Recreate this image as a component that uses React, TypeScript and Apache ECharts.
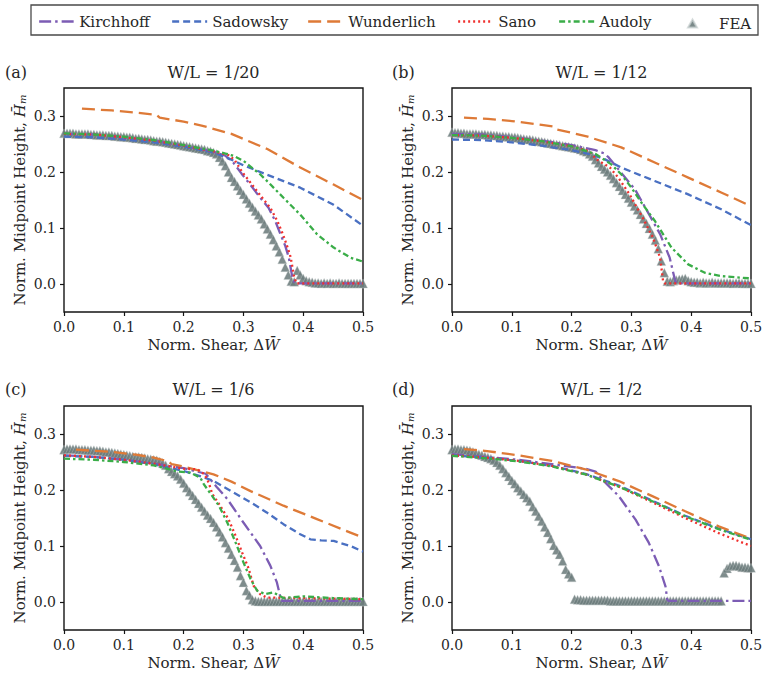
import React, { useEffect, useRef } from "react";
import * as echarts from "echarts";

// ---------- DATA ----------
const FEA_X = [
  0, 0.005, 0.01, 0.015, 0.02, 0.025, 0.03, 0.035, 0.04, 0.045, 0.05,
  0.055, 0.06, 0.065, 0.07, 0.075, 0.08, 0.085, 0.09, 0.095, 0.1,
  0.105, 0.11, 0.115, 0.12, 0.125, 0.13, 0.135, 0.14, 0.145, 0.15,
  0.155, 0.16, 0.165, 0.17, 0.175, 0.18, 0.185, 0.19, 0.195, 0.2,
  0.205, 0.21, 0.215, 0.22, 0.225, 0.23, 0.235, 0.24, 0.245, 0.25,
  0.255, 0.26, 0.265, 0.27, 0.275, 0.28, 0.285, 0.29, 0.295, 0.3,
  0.305, 0.31, 0.315, 0.32, 0.325, 0.33, 0.335, 0.34, 0.345, 0.35,
  0.355, 0.36, 0.365, 0.37, 0.375, 0.38, 0.385, 0.39, 0.395, 0.4,
  0.405, 0.41, 0.415, 0.42, 0.425, 0.43, 0.435, 0.44, 0.445, 0.45,
  0.455, 0.46, 0.465, 0.47, 0.475, 0.48, 0.485, 0.49, 0.495, 0.5,
];

// Panel (a) W/L = 1/20
const FEA_A = [
  0.269, 0.269, 0.269, 0.269, 0.268, 0.268, 0.268, 0.268, 0.268, 0.267, 0.267,
  0.266, 0.266, 0.266, 0.265, 0.265, 0.265, 0.264, 0.264, 0.263, 0.263,
  0.262, 0.262, 0.261, 0.26, 0.26, 0.259, 0.258, 0.258, 0.257, 0.256,
  0.255, 0.255, 0.254, 0.253, 0.252, 0.251, 0.25, 0.249, 0.248, 0.247,
  0.246, 0.245, 0.244, 0.243, 0.242, 0.241, 0.24, 0.238, 0.237, 0.235,
  0.232, 0.226, 0.219, 0.211, 0.2, 0.19, 0.183, 0.175, 0.167, 0.16,
  0.152, 0.144, 0.137, 0.13, 0.123, 0.116, 0.107, 0.098, 0.089, 0.079,
  0.068, 0.057, 0.044, 0.03, 0.016, 0.005, 0.004, 0.024, 0.016, 0.01,
  0.006, 0.004, 0.003, 0.002, 0.002, 0.001, 0.002, 0.001, 0.002, 0.001,
  0.001, 0.002, 0.001, 0.001, 0.001, 0.001, 0.001, 0.001, 0.001, 0.001,
];
const KIRCHHOFF_A = [
  [0, 0.268], [0.05, 0.267], [0.1, 0.262], [0.15, 0.256], [0.2, 0.247], [0.25, 0.236],
  [0.27, 0.229], [0.283, 0.217], [0.297, 0.197], [0.311, 0.178], [0.326, 0.157],
  [0.342, 0.136], [0.353, 0.113], [0.362, 0.089], [0.37, 0.068], [0.376, 0.047],
  [0.382, 0.011], [0.386, 0.001], [0.5, 0.001],
];
const SADOWSKY_A = [
  [0, 0.263], [0.05, 0.262], [0.1, 0.258], [0.15, 0.253], [0.2, 0.245], [0.25, 0.235],
  [0.28, 0.222], [0.3, 0.212], [0.34, 0.195], [0.395, 0.172], [0.45, 0.142], [0.5, 0.104],
];
const WUNDERLICH_A = [
  [0.03, 0.313], [0.08, 0.31], [0.12, 0.306], [0.155, 0.302], [0.16, 0.297], [0.2, 0.29],
  [0.23, 0.283], [0.28, 0.268], [0.34, 0.241], [0.395, 0.208], [0.45, 0.178], [0.5, 0.15],
];
const SANO_A = [
  [0, 0.268], [0.05, 0.267], [0.1, 0.262], [0.15, 0.256], [0.2, 0.247], [0.25, 0.237],
  [0.275, 0.23], [0.285, 0.222], [0.298, 0.2], [0.314, 0.178], [0.33, 0.156],
  [0.345, 0.136], [0.357, 0.112], [0.366, 0.089], [0.373, 0.068], [0.379, 0.048],
  [0.385, 0.012], [0.389, 0.001], [0.5, 0.001],
];
const AUDOLY_A = [
  [0, 0.269], [0.05, 0.267], [0.1, 0.263], [0.15, 0.257], [0.2, 0.248], [0.25, 0.238],
  [0.27, 0.233], [0.283, 0.229], [0.3, 0.22], [0.315, 0.207], [0.328, 0.196],
  [0.345, 0.178], [0.367, 0.154], [0.395, 0.124], [0.423, 0.089], [0.451, 0.065],
  [0.479, 0.047], [0.5, 0.04],
];

// Panel (b) W/L = 1/12
const FEA_B = [
  0.271, 0.27, 0.27, 0.269, 0.269, 0.268, 0.268, 0.268, 0.268, 0.267, 0.267,
  0.267, 0.266, 0.266, 0.265, 0.265, 0.264, 0.264, 0.263, 0.263, 0.262,
  0.262, 0.261, 0.26, 0.259, 0.258, 0.258, 0.257, 0.256, 0.255, 0.254,
  0.253, 0.252, 0.251, 0.25, 0.249, 0.248, 0.247, 0.246, 0.245, 0.244,
  0.243, 0.242, 0.24, 0.238, 0.236, 0.232, 0.228, 0.222, 0.216, 0.21,
  0.205, 0.2, 0.194, 0.188, 0.181, 0.174, 0.167, 0.16, 0.153, 0.146,
  0.139, 0.132, 0.124, 0.116, 0.108, 0.099, 0.089, 0.078, 0.063, 0.041,
  0.02, 0.005, 0.004, 0.006, 0.007, 0.008, 0.009, 0.01, 0.006, 0.004,
  0.003, 0.003, 0.002, 0.003, 0.002, 0.002, 0.003, 0.002, 0.002, 0.002,
  0.002, 0.002, 0.002, 0.001, 0.002, 0.002, 0.001, 0.001, 0.001, 0.001,
];
const KIRCHHOFF_B = [
  [0, 0.268], [0.05, 0.267], [0.1, 0.262], [0.15, 0.256], [0.2, 0.248], [0.24, 0.239],
  [0.255, 0.233], [0.262, 0.226], [0.285, 0.196], [0.306, 0.169], [0.325, 0.133],
  [0.348, 0.089], [0.364, 0.047], [0.372, 0.011], [0.375, 0.001], [0.5, 0.001],
];
const SADOWSKY_B = [
  [0, 0.258], [0.05, 0.257], [0.1, 0.253], [0.15, 0.247], [0.2, 0.239], [0.23, 0.232],
  [0.255, 0.223], [0.283, 0.208], [0.339, 0.184], [0.395, 0.16], [0.451, 0.133], [0.5, 0.105],
];
const WUNDERLICH_B = [
  [0.02, 0.297], [0.06, 0.295], [0.1, 0.291], [0.15, 0.284], [0.17, 0.281], [0.175, 0.276],
  [0.2, 0.27], [0.227, 0.263], [0.283, 0.244], [0.339, 0.217], [0.395, 0.19],
  [0.451, 0.163], [0.5, 0.139],
];
const SANO_B = [
  [0, 0.266], [0.05, 0.265], [0.1, 0.261], [0.15, 0.255], [0.2, 0.246], [0.23, 0.237],
  [0.241, 0.223], [0.264, 0.208], [0.278, 0.19], [0.297, 0.16], [0.317, 0.122],
  [0.336, 0.083], [0.348, 0.047], [0.353, 0.005], [0.356, 0.001], [0.5, 0.001],
];
const AUDOLY_B = [
  [0, 0.266], [0.05, 0.265], [0.1, 0.261], [0.15, 0.255], [0.2, 0.246], [0.24, 0.232],
  [0.266, 0.214], [0.283, 0.196], [0.3, 0.172], [0.317, 0.145], [0.339, 0.113],
  [0.367, 0.065], [0.395, 0.035], [0.423, 0.02], [0.451, 0.014], [0.5, 0.01],
];

// Panel (c) W/L = 1/6
const FEA_C = [
  0.272, 0.273, 0.273, 0.273, 0.273, 0.272, 0.272, 0.272, 0.271, 0.271, 0.271,
  0.27, 0.27, 0.269, 0.268, 0.268, 0.267, 0.266, 0.265, 0.264, 0.263,
  0.262, 0.261, 0.26, 0.259, 0.259, 0.258, 0.257, 0.256, 0.255, 0.254,
  0.253, 0.251, 0.248, 0.244, 0.238, 0.233, 0.229, 0.225, 0.219, 0.212,
  0.204, 0.197, 0.19, 0.183, 0.176, 0.169, 0.162, 0.155, 0.149, 0.142,
  0.134, 0.125, 0.116, 0.106, 0.096, 0.085, 0.074, 0.062, 0.047, 0.035,
  0.02, 0.012, 0.004, 0.002, 0.001, 0.001, 0.001, 0.001, 0.001, 0.001,
  0.001, 0.001, 0.001, 0.001, 0.001, 0.001, 0.001, 0.001, 0.001, 0.001,
  0.001, 0.001, 0.001, 0.001, 0.001, 0.001, 0.001, 0.001, 0.001, 0.001,
  0.001, 0.001, 0.001, 0.001, 0.001, 0.001, 0.001, 0.001, 0.001, 0.001,
];
const KIRCHHOFF_C = [
  [0, 0.262], [0.05, 0.259], [0.1, 0.254], [0.15, 0.247], [0.2, 0.239], [0.237, 0.229],
  [0.255, 0.206], [0.273, 0.184], [0.3, 0.142], [0.328, 0.1], [0.345, 0.065],
  [0.356, 0.035], [0.362, 0.008], [0.364, 0.002], [0.5, 0.002],
];
const SADOWSKY_C = [
  [0, 0.261], [0.05, 0.259], [0.1, 0.254], [0.15, 0.246], [0.2, 0.234], [0.23, 0.224],
  [0.25, 0.216], [0.284, 0.195], [0.312, 0.178], [0.339, 0.16], [0.367, 0.139],
  [0.395, 0.121], [0.412, 0.112], [0.43, 0.11], [0.451, 0.109], [0.479, 0.1], [0.5, 0.09],
];
const WUNDERLICH_C = [
  [0.02, 0.272], [0.08, 0.268], [0.12, 0.263], [0.15, 0.258], [0.175, 0.251], [0.18, 0.246],
  [0.2, 0.242], [0.25, 0.228], [0.28, 0.215], [0.312, 0.198], [0.367, 0.172],
  [0.423, 0.148], [0.479, 0.124], [0.5, 0.115],
];
const SANO_C = [
  [0, 0.262], [0.05, 0.259], [0.1, 0.254], [0.15, 0.247], [0.2, 0.238], [0.223, 0.237],
  [0.235, 0.228], [0.242, 0.213], [0.248, 0.193], [0.261, 0.172], [0.275, 0.148],
  [0.287, 0.118], [0.298, 0.088], [0.309, 0.059], [0.317, 0.029], [0.328, 0.014],
  [0.339, 0.008], [0.4, 0.007], [0.5, 0.005],
];
const AUDOLY_C = [
  [0, 0.256], [0.05, 0.254], [0.1, 0.25], [0.15, 0.244], [0.19, 0.233], [0.211, 0.231],
  [0.228, 0.222], [0.234, 0.21], [0.248, 0.189], [0.259, 0.172], [0.273, 0.142],
  [0.287, 0.106], [0.3, 0.071], [0.312, 0.041], [0.323, 0.02], [0.337, 0.014],
  [0.35, 0.017], [0.367, 0.007], [0.4, 0.01], [0.45, 0.007], [0.5, 0.005],
];

// Panel (d) W/L = 1/2
const FEA_D = [
  0.272, 0.273, 0.273, 0.272, 0.272, 0.271, 0.27, 0.268, 0.266, 0.264, 0.262,
  0.26, 0.258, 0.256, 0.253, 0.249, 0.244, 0.238, 0.231, 0.224, 0.217,
  0.211, 0.204, 0.198, 0.192, 0.186, 0.18, 0.17, 0.162, 0.153, 0.144,
  0.134, 0.124, 0.113, 0.101, 0.093, 0.085, 0.073, 0.058, 0.05, 0.044,
  0.005, 0.004, 0.004, 0.003, 0.003, 0.003, 0.003, 0.003, 0.003, 0.003,
  0.003, 0.003, 0.002, 0.002, 0.002, 0.002, 0.002, 0.002, 0.002, 0.002,
  0.002, 0.002, 0.002, 0.002, 0.002, 0.002, 0.002, 0.002, 0.002, 0.002,
  0.002, 0.002, 0.002, 0.002, 0.002, 0.002, 0.002, 0.002, 0.002, 0.002,
  0.002, 0.002, 0.002, 0.002, 0.002, 0.002, 0.002, 0.002, 0.002, 0.002,
  0.052, 0.06, 0.064, 0.065, 0.065, 0.064, 0.062, 0.062, 0.061, 0.061,
];
const KIRCHHOFF_D = [
  [0, 0.264], [0.055, 0.259], [0.111, 0.254], [0.167, 0.246], [0.223, 0.238], [0.24, 0.233],
  [0.251, 0.219], [0.279, 0.189], [0.307, 0.147], [0.329, 0.106], [0.346, 0.064],
  [0.357, 0.028], [0.36, 0.004], [0.362, 0.002], [0.5, 0.002],
];
const SADOWSKY_D = [
  [0, 0.262], [0.055, 0.258], [0.111, 0.252], [0.167, 0.243], [0.223, 0.229],
  [0.279, 0.208], [0.335, 0.181], [0.39, 0.154], [0.446, 0.131], [0.5, 0.112],
];
const WUNDERLICH_D = [
  [0.02, 0.273], [0.055, 0.27], [0.111, 0.262], [0.167, 0.252], [0.223, 0.237],
  [0.279, 0.216], [0.335, 0.189], [0.39, 0.162], [0.446, 0.135], [0.5, 0.113],
];
const SANO_D = [
  [0, 0.262], [0.055, 0.258], [0.111, 0.252], [0.167, 0.243], [0.223, 0.228],
  [0.279, 0.206], [0.335, 0.178], [0.39, 0.15], [0.446, 0.123], [0.5, 0.1],
];
const AUDOLY_D = [
  [0, 0.261], [0.055, 0.257], [0.111, 0.251], [0.167, 0.242], [0.223, 0.228],
  [0.279, 0.206], [0.335, 0.18], [0.39, 0.153], [0.446, 0.13], [0.5, 0.111],
];

const PANEL_TITLES = ["W/L = 1/20", "W/L = 1/12", "W/L = 1/6", "W/L = 1/2"];
const PANEL_LABELS = ["(a)", "(b)", "(c)", "(d)"];
const Y_TICKS = [0, 0.1, 0.2, 0.3];
const SERIES_NAMES = ["Kirchhoff", "Sadowsky", "Wunderlich", "Sano", "Audoly", "FEA"];

const PANEL_DATA = [
  { fea: FEA_A, lines: [KIRCHHOFF_A, SADOWSKY_A, WUNDERLICH_A, SANO_A, AUDOLY_A] },
  { fea: FEA_B, lines: [KIRCHHOFF_B, SADOWSKY_B, WUNDERLICH_B, SANO_B, AUDOLY_B] },
  { fea: FEA_C, lines: [KIRCHHOFF_C, SADOWSKY_C, WUNDERLICH_C, SANO_C, AUDOLY_C] },
  { fea: FEA_D, lines: [KIRCHHOFF_D, SADOWSKY_D, WUNDERLICH_D, SANO_D, AUDOLY_D] },
];

// ---------- STYLE ----------
const FONT = "DejaVu Serif";
const TXT = "#262626";
const COLORS = ["#7c5cb4", "#4a70c2", "#de7a37", "#f0302e", "#3aad48", "#6c7c7c"];
const DASHES: number[][] = [
  [12, 4, 2.5, 4],
  [7, 4],
  [13, 6],
  [2, 3],
  [6, 3, 2.5, 3],
];
const GRID_POS = [
  { left: 64, top: 88 },
  { left: 452, top: 88 },
  { left: 64, top: 406 },
  { left: 452, top: 406 },
];
const GW = 299;
const GH = 224;
const LEGEND_POS = [38, 171, 307, 457, 558, 687];

export default function App() {
  const ref = useRef<HTMLDivElement>(null);

  useEffect(() => {
    if (!ref.current) return;
    const chart = echarts.init(ref.current, null, { renderer: "svg" });

    const grids = GRID_POS.map((g) => ({
      left: g.left,
      top: g.top,
      width: GW,
      height: GH,
      show: true,
      borderColor: "#141414",
      borderWidth: 1.4,
      backgroundColor: "transparent",
    }));

    const xAxes = GRID_POS.map((_, i) => ({
      type: "value",
      gridIndex: i,
      min: 0,
      max: 0.5,
      interval: 0.1,
      name: "Norm. Shear, Δ{it|W\u0304}",
      nameLocation: "middle",
      nameGap: 25,
      nameTextStyle: {
        fontFamily: FONT,
        fontSize: 15,
        color: TXT,
        rich: { it: { fontFamily: FONT, fontSize: 15, fontStyle: "italic", color: TXT } },
      },
      axisLine: { show: false, onZero: false },
      axisTick: { show: true, length: 4, lineStyle: { color: "#141414", width: 1.2 } },
      axisLabel: {
        margin: 8,
        fontFamily: FONT,
        fontSize: 14,
        color: TXT,
        formatter: (v: number) => v.toFixed(1),
      },
      splitLine: { show: false },
    }));

    const yAxes = GRID_POS.map((_, i) => ({
      type: "value",
      gridIndex: i,
      min: -0.05,
      max: 0.35,
      name: "Norm. Midpoint Height, {it|H\u0304}{sub|m}",
      nameLocation: "middle",
      nameGap: 37,
      nameTextStyle: {
        fontFamily: FONT,
        fontSize: 15,
        color: TXT,
        rich: {
          it: { fontFamily: FONT, fontSize: 15, fontStyle: "italic", color: TXT },
          sub: { fontFamily: FONT, fontSize: 10, fontStyle: "italic", color: TXT, verticalAlign: "bottom" },
        },
      },
      axisLine: { show: false, onZero: false },
      axisTick: {
        show: true,
        length: 4,
        customValues: Y_TICKS,
        lineStyle: { color: "#141414", width: 1.2 },
      },
      axisLabel: {
        margin: 8,
        fontFamily: FONT,
        fontSize: 14,
        color: TXT,
        customValues: Y_TICKS,
        formatter: (v: number) => v.toFixed(1),
      },
      splitLine: { show: false },
    }));

    const series: any[] = [];
    PANEL_DATA.forEach((p, i) => {
      series.push({
        type: "scatter",
        name: "FEA",
        xAxisIndex: i,
        yAxisIndex: i,
        symbol: "triangle",
        symbolSize: 9,
        data: FEA_X.map((x, k) => [x, p.fea[k]]),
        itemStyle: {
          color: COLORS[5],
          opacity: 0.88,
          borderColor: "rgba(200,208,208,0.8)",
          borderWidth: 0.5,
        },
        silent: true,
        z: 2,
      });
      p.lines.forEach((d, j) => {
        series.push({
          type: "line",
          name: SERIES_NAMES[j],
          xAxisIndex: i,
          yAxisIndex: i,
          data: d,
          symbol: "none",
          showSymbol: false,
          clip: true,
          lineStyle: { color: COLORS[j], width: 2.3, type: DASHES[j], cap: "butt" },
          itemStyle: { color: COLORS[j] },
          silent: true,
          z: 3 + j,
        });
      });
    });

    const legends = SERIES_NAMES.map((name, i) => {
      const isFea = i === 5;
      const h = isFea ? 8 : 12;
      return {
        data: [isFea ? { name, icon: "triangle" } : name],
        left: LEGEND_POS[i],
        top: 20 - h / 2,
        padding: 0,
        itemWidth: isFea ? 9 : 35,
        itemHeight: h,
        selectedMode: false,
        itemStyle: isFea ? { color: COLORS[5], opacity: 0.9 } : { opacity: 0 },
        lineStyle: isFea ? undefined : { width: 2.3 },
        textStyle: {
          fontFamily: FONT,
          fontSize: 15,
          color: TXT,
          padding: isFea ? [0, 0, 0, 17] : 0,
        },
        z: 10,
      };
    });

    const titles: any[] = [];
    GRID_POS.forEach((g, i) => {
      const cy = i < 2 ? 73 : 390;
      titles.push({
        text: PANEL_TITLES[i],
        left: g.left + GW / 2,
        top: cy - 9,
        textAlign: "center",
        padding: 0,
        textStyle: { fontFamily: FONT, fontSize: 16, fontWeight: "normal", color: TXT },
      });
      titles.push({
        text: PANEL_LABELS[i],
        left: i % 2 === 0 ? 5 : 392,
        top: cy - 9,
        padding: 0,
        textStyle: { fontFamily: FONT, fontSize: 16, fontWeight: "normal", color: TXT },
      });
    });

    chart.setOption({
      animation: false,
      backgroundColor: "#ffffff",
      title: titles,
      legend: legends,
      graphic: [
        {
          type: "rect",
          shape: { x: 31, y: 5, width: 727, height: 30 },
          style: { fill: "#ffffff", stroke: "#4a4a4a", lineWidth: 1.3 },
          z: 1,
        },
      ],
      grid: grids,
      xAxis: xAxes,
      yAxis: yAxes,
      series,
    });

    return () => chart.dispose();
  }, []);

  return (
    <div
      ref={ref}
      style={{ position: "absolute", left: 0, top: 0, width: 767, height: 685 }}
    />
  );
}
